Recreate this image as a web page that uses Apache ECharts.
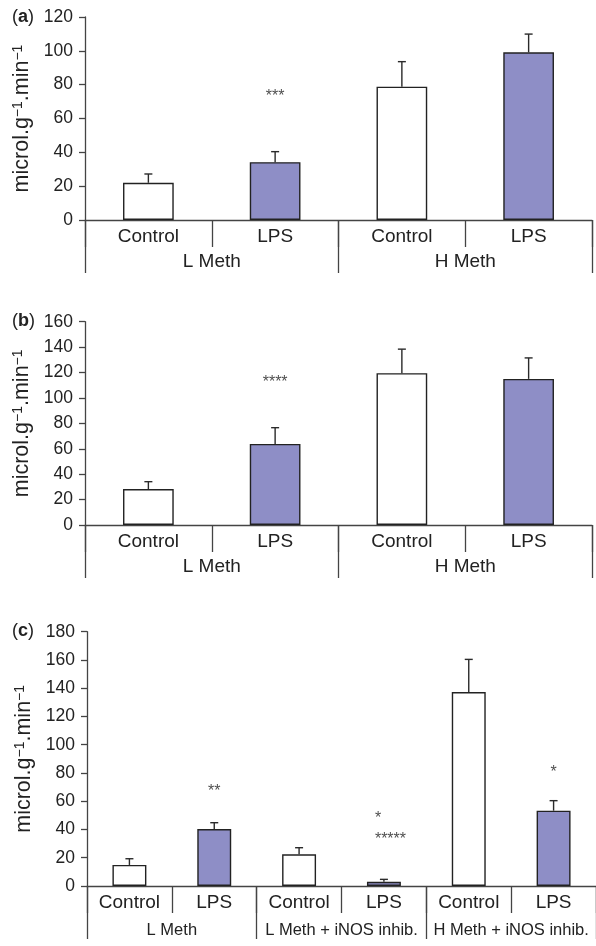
<!DOCTYPE html>
<html><head><meta charset="utf-8">
<script src="https://cdn.jsdelivr.net/npm/echarts@6/dist/echarts.min.js"></script>
<style>html,body{margin:0;padding:0;background:#fff}#c{width:596px;height:946px}</style>
</head><body><div id="c"></div>
<script>
// ---- data ----
const catsAB = ['Control', 'LPS', 'Control', 'LPS'];
const groupsAB = ['L Meth', 'H Meth'];
const catsC = ['Control', 'LPS', 'Control', 'LPS', 'Control', 'LPS'];
const groupsC = ['L Meth', 'L Meth + iNOS inhib.', 'H Meth + iNOS inhib.'];

const aValues = [22.0, 34.2, 78.8, 99.1];
const aErrTop = [27.2, 40.4, 93.6, 109.9];
const aStars = [null, '***', null, null];
const aStarY = [null, 73, null, null];

const bValues = [28.3, 63.8, 119.5, 115.0];
const bErrTop = [34.1, 76.6, 138.4, 131.5];
const bStars = [null, '****', null, null];
const bStarY = [null, 112, null, null];

const cValues = [14.9, 40.3, 22.4, 3.0, 137.3, 53.3];
const cErrTop = [19.3, 44.8, 27.1, 4.7, 160.4, 60.4];
const cStars = [null, '**', null, '*\n*****', null, '*'];
const cStarY = [null, 67, null, 40, null, 80.5];

const yMaxA = 120, yMaxB = 160, yMaxC = 180, yStep = 20;

// ---- styles ----
const FONT = 'Liberation Sans, Arial, Helvetica, sans-serif';
const TXT = '#222';
const AX = '#444';
const PURPLE = '#8e8ec6';

const grids = [
  {left: 85, top: 17, width: 507, height: 203},
  {left: 85, top: 321.7, width: 507, height: 203.3},
  {left: 87, top: 631.7, width: 514, height: 254.3}
];

const panels = [
  {cats: catsAB, groups: groupsAB, values: aValues, err: aErrTop, stars: aStars, starY: aStarY, max: yMaxA, groupFont: 19},
  {cats: catsAB, groups: groupsAB, values: bValues, err: bErrTop, stars: bStars, starY: bStarY, max: yMaxB, groupFont: 19},
  {cats: catsC, groups: groupsC, values: cValues, err: cErrTop, stars: cStars, starY: cStarY, max: yMaxC, groupFont: 16.5}
];

const xAxes = [], yAxes = [], series = [];
panels.forEach((p, g) => {
  xAxes.push({
    type: 'category', gridIndex: g, data: p.cats, position: 'bottom',
    axisLine: {show: true, lineStyle: {color: AX, width: 1.3}},
    axisTick: {show: true, length: 27, interval: 0, alignWithLabel: false, lineStyle: {color: AX, width: 1.3}},
    axisLabel: {interval: 0, fontSize: 19, color: TXT, fontFamily: FONT, margin: 7}
  });
  xAxes.push({
    type: 'category', gridIndex: g, data: p.groups, position: 'bottom',
    axisLine: {show: false},
    axisTick: {show: true, length: 53, interval: 0, alignWithLabel: false, lineStyle: {color: AX, width: 1.3}},
    axisLabel: {interval: 0, fontSize: p.groupFont, color: TXT, fontFamily: FONT, margin: g === 2 ? 36 : 32}
  });
  yAxes.push({
    type: 'value', gridIndex: g, min: 0, max: p.max, interval: yStep,
    name: 'microl.g{s|\u22121}.min{s|\u22121}', nameLocation: 'middle', nameGap: 49, nameRotate: 90,
    nameTextStyle: {fontSize: 21.5, color: TXT, fontFamily: FONT,
      rich: {s: {fontSize: 14, verticalAlign: 'top', color: TXT, fontFamily: FONT}}},
    axisLine: {show: true, lineStyle: {color: AX, width: 1.3}},
    axisTick: {show: true, length: 6, lineStyle: {color: AX, width: 1.3}},
    splitLine: {show: false},
    axisLabel: {fontSize: 17.5, color: TXT, fontFamily: FONT, margin: 12}
  });
  series.push({
    type: 'bar', xAxisIndex: 2 * g, yAxisIndex: g, barWidth: '40%',
    data: p.values.map((v, i) => ({
      value: v,
      itemStyle: {color: p.cats[i] === 'LPS' ? PURPLE : '#fff', borderColor: '#222', borderWidth: 1.4}
    })),
    z: 2
  });
  series.push({
    type: 'custom', xAxisIndex: 2 * g, yAxisIndex: g, z: 3,
    data: p.values.map((v, i) => [i, v, p.err[i]]),
    renderItem: (params, api) => {
      const a = api.coord([api.value(0), api.value(1)]);
      const b = api.coord([api.value(0), api.value(2)]);
      const st = {stroke: '#2a2a2a', lineWidth: 1.4};
      return {type: 'group', children: [
        {type: 'line', shape: {x1: a[0], y1: a[1], x2: b[0], y2: b[1]}, style: st},
        {type: 'line', shape: {x1: b[0] - 4, y1: b[1], x2: b[0] + 4, y2: b[1]}, style: st}
      ]};
    }
  });
  const starData = [];
  p.stars.forEach((s, i) => {
    if (!s) return;
    const item = {value: [i, p.starY[i]], name: s};
    if (s.indexOf('\n') >= 0) {
      item.label = {position: 'right', distance: 0, offset: [-9, 0], align: 'left', lineHeight: 21};
    }
    starData.push(item);
  });
  series.push({
    type: 'scatter', xAxisIndex: 2 * g, yAxisIndex: g, symbolSize: 0, z: 4,
    data: starData,
    label: {show: true, position: 'inside', formatter: '{b}', fontSize: 16, color: TXT, fontFamily: FONT}
  });
});

const chart = echarts.init(document.getElementById('c'), null, {renderer: 'canvas'});
chart.setOption({
  animation: false,
  backgroundColor: '#fff',
  grid: grids,
  xAxis: xAxes,
  yAxis: yAxes,
  series: series,
  graphic: ['a', 'b', 'c'].map((l, k) => ({
    type: 'text', left: 12, top: [8, 312, 622][k],
    style: {text: '({b|' + l + '})', fontSize: 18, fill: TXT, fontFamily: FONT,
      rich: {b: {fontWeight: 'bold', fontSize: 18, fontFamily: FONT, color: TXT}}}
  }))
});
</script></body></html>
